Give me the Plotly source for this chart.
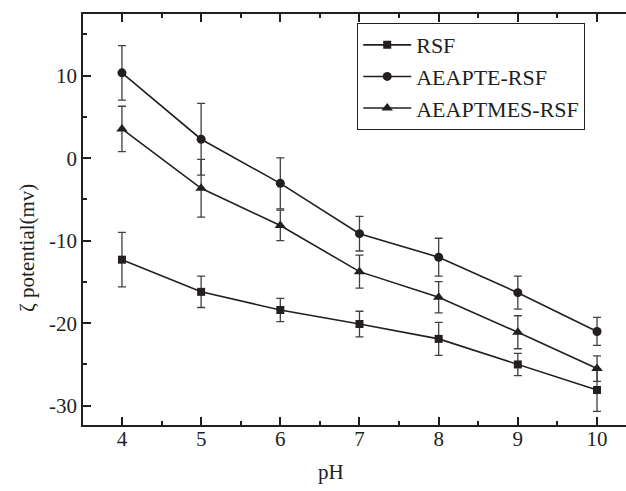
import plotly.graph_objects as go

# pH values of the measurements
ph = [4, 5, 6, 7, 8, 9, 10]

# Zeta potential (mV) and standard deviations for each sample
rsf = [-12.3, -16.2, -18.4, -20.1, -21.9, -25.0, -28.1]
rsf_err = [3.3, 1.9, 1.4, 1.55, 2.0, 1.35, 2.6]

aeapte = [10.35, 2.3, -3.05, -9.15, -12.0, -16.3, -21.0]
aeapte_err = [3.3, 4.35, 3.1, 2.1, 2.3, 2.0, 1.7]

aeaptmes = [3.55, -3.65, -8.15, -13.75, -16.85, -21.1, -25.5]
aeaptmes_err = [2.75, 3.5, 1.85, 2.0, 1.9, 2.0, 1.55]

# y tick positions and their labels (plain hyphen minus)
y_ticks = [10, 0, -10, -20, -30]
y_tick_text = ["10", "0", "-10", "-20", "-30"]

names = ["RSF", "AEAPTE-RSF", "AEAPTMES-RSF"]
symbols = ["square", "circle", "triangle-up"]
sizes = [8, 9, 10]

INK = "#231f20"
FONT = "Liberation Serif"

fig = go.Figure()
for name, y, err, sym, sz in zip(names, [rsf, aeapte, aeaptmes],
                                 [rsf_err, aeapte_err, aeaptmes_err],
                                 symbols, sizes):
    fig.add_trace(go.Scatter(
        x=ph, y=y, name=name, mode="lines+markers",
        line=dict(color=INK, width=1.6),
        marker=dict(symbol=sym, size=sz, color=INK),
        error_y=dict(type="data", array=err, visible=True,
                     color="#404040", thickness=1.3, width=4),
    ))

fig.update_layout(
    width=626, height=491,
    margin=dict(l=83, r=0, t=14, b=66),
    paper_bgcolor="white", plot_bgcolor="white",
    font=dict(family=FONT, size=21, color=INK),
    showlegend=True,
    legend=dict(
        x=0.505, y=0.978, xanchor="left", yanchor="top",
        bordercolor=INK, borderwidth=1, bgcolor="white",
        font=dict(family=FONT, size=22, color=INK),
        itemwidth=48, tracegroupgap=0,
    ),
)

fig.update_xaxes(
    range=[3.508, 10.366], tickmode="array", tickvals=ph,
    ticks="inside", ticklen=8, tickwidth=1.5, tickcolor=INK,
    minor=dict(ticks="inside", ticklen=4, tickwidth=1.5, tickcolor=INK, dtick=0.5, tick0=3.5),
    showline=True, linecolor=INK, linewidth=1.5, mirror="ticks",
    showgrid=False, zeroline=False, ticklabelstandoff=-6,
    tickfont=dict(family=FONT, size=21, color=INK),
)
fig.update_yaxes(
    range=[-32.34, 17.48], tickmode="array", tickvals=y_ticks, ticktext=y_tick_text,
    ticks="inside", ticklen=8, tickwidth=1.5, tickcolor=INK,
    minor=dict(ticks="inside", ticklen=4, tickwidth=1.5, tickcolor=INK, dtick=5, tick0=5),
    showline=True, linecolor=INK, linewidth=1.5, mirror=False,
    showgrid=False, zeroline=False,
    tickfont=dict(family=FONT, size=21, color=INK),
)

# Axis titles
fig.add_annotation(text="pH", xref="paper", yref="paper", x=0.457, y=-0.115,
                   xanchor="center", yanchor="middle", showarrow=False,
                   font=dict(family=FONT, size=21, color=INK))
fig.add_annotation(text="ζ potential(mv)", xref="paper", yref="paper", x=-0.102, y=0.43,
                   xanchor="center", yanchor="middle", showarrow=False, textangle=-90,
                   font=dict(family=FONT, size=21, color=INK))

fig.write_html("out.html")
